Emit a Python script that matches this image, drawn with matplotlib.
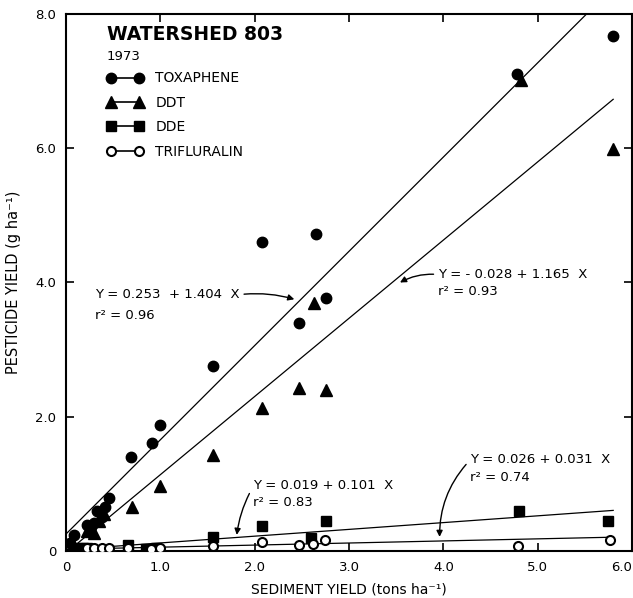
import matplotlib
matplotlib.use("Agg")
import matplotlib.pyplot as plt
from matplotlib.lines import Line2D
import numpy as np

plt.rcParams['font.family'] = ['DejaVu Sans']

# sediment yield (tons/ha) vs pesticide yield (g/ha), watershed 803, 1973
tox_x = [0.04, 0.08, 0.22, 0.26, 0.30, 0.33, 0.38, 0.41, 0.46, 0.69, 0.91, 1.00, 1.56, 2.08, 2.47, 2.65, 2.76, 4.78, 5.80]
tox_y = [0.12, 0.24, 0.38, 0.36, 0.42, 0.60, 0.50, 0.66, 0.79, 1.40, 1.61, 1.87, 2.76, 4.60, 3.40, 4.72, 3.77, 7.10, 7.67]

ddt_x = [0.08, 0.22, 0.30, 0.35, 0.40, 0.70, 1.00, 1.56, 2.08, 2.47, 2.63, 2.76, 4.82, 5.80]
ddt_y = [0.05, 0.30, 0.27, 0.45, 0.55, 0.66, 0.97, 1.43, 2.13, 2.43, 3.70, 2.40, 7.02, 5.99]

dde_x = [0.12, 0.18, 0.22, 0.66, 0.85, 0.95, 1.56, 2.08, 2.60, 2.76, 4.80, 5.75]
dde_y = [0.04, 0.05, 0.05, 0.09, 0.03, 0.05, 0.21, 0.37, 0.20, 0.45, 0.59, 0.44]

tri_x = [0.22, 0.30, 0.38, 0.46, 0.66, 0.90, 1.00, 1.56, 2.08, 2.47, 2.62, 2.75, 4.79, 5.77]
tri_y = [0.05, 0.05, 0.05, 0.05, 0.05, 0.03, 0.04, 0.07, 0.13, 0.09, 0.10, 0.16, 0.08, 0.17]

# regression lines (intercept, slope)
fits = [(0.253, 1.404), (-0.028, 1.165), (0.019, 0.101), (0.026, 0.031)]
fit_text = ["Y = 0.253  + 1.404  X", "Y = - 0.028 + 1.165  X",
            "Y = 0.019 + 0.101  X", "Y = 0.026 + 0.031  X"]
fit_r2 = ["r² = 0.96", "r² = 0.93", "r² = 0.83", "r² = 0.74"]

names = ["TOXAPHENE", "DDT", "DDE", "TRIFLURALIN"]

xticks = [0, 1, 2, 3, 4, 5, 6]
xlabels = ["0", "1.0", "2.0", "3.0", "4.0", "5.0", "6.0"]
yticks = [0, 2, 4, 6, 8]
ylabels = ["0", "2.0", "4.0", "6.0", "8.0"]

fig = plt.figure(figsize=(6.33, 5.98), dpi=100)
ax = fig.add_axes([0.1043, 0.0786, 0.8942, 0.898])

xx = np.linspace(0, 5.8, 50)
for b0, b1 in fits:
    ax.plot(xx, b0 + b1 * xx, color="black", lw=0.9, zorder=2)

ax.plot(tox_x, tox_y, 'o', color='black', ms=7.5, zorder=3)
ax.plot(ddt_x, ddt_y, '^', color='black', ms=8, zorder=3)
ax.plot(dde_x, dde_y, 's', color='black', ms=6.5, zorder=3)
ax.plot(tri_x, tri_y, 'o', mfc='white', mec='black', mew=1.5, ms=6.5, zorder=4)

ax.set_xlim(0, 6)
ax.set_ylim(0, 8)
ax.set_xticks(xticks)
ax.set_xticklabels(xlabels, fontsize=9.5)
ax.set_yticks(yticks)
ax.set_yticklabels(ylabels, fontsize=9.5)
ax.get_xticklabels()[-1].set_ha('right')
ax.tick_params(direction='in', length=6, width=1.2, top=True, right=True, pad=7)
for s in ax.spines.values():
    s.set_linewidth(1.5)

ax.set_xlabel("SEDIMENT YIELD (tons ha⁻¹)", fontsize=10, labelpad=6)
ax.set_ylabel("PESTICIDE YIELD (g ha⁻¹)", fontsize=10.5, labelpad=10)

# title block and legend
ax.text(0.072, 0.961, "WATERSHED 803", transform=ax.transAxes, fontsize=13.5,
        fontweight='bold', va='center', ha='left')
ax.text(0.072, 0.92, "1973", transform=ax.transAxes, fontsize=9.5, va='center', ha='left')

handles = [
    Line2D([], [], color='black', lw=1.2, marker='o', ms=7.5),
    Line2D([], [], color='black', lw=1.2, marker='^', ms=8),
    Line2D([], [], color='black', lw=1.2, marker='s', ms=6.5),
    Line2D([], [], color='black', lw=1.2, marker='o', mfc='white', mew=1.5, ms=6.5),
]
ax.legend(handles, names, loc='upper left', bbox_to_anchor=(0.072, 0.893),
          frameon=False, numpoints=2, handlelength=2.6, handletextpad=0.9,
          labelspacing=0.75, borderpad=0, borderaxespad=0, fontsize=10)

# equation labels with arrows
arrow = dict(arrowstyle='-|>', color='black', lw=1.0, mutation_scale=9, shrinkA=1, shrinkB=0)
ax.annotate(fit_text[0], xy=(2.42, 3.75), xytext=(0.31, 3.82), fontsize=9.5,
            va='center', ha='left',
            arrowprops=dict(arrow, relpos=(1, 0.5), connectionstyle='arc3,rad=-0.1'))
ax.text(0.31, 3.51, fit_r2[0], fontsize=9.5, va='center', ha='left')

ax.annotate(fit_text[1], xy=(3.54, 4.0), xytext=(3.94, 4.12), fontsize=9.5,
            va='center', ha='left',
            arrowprops=dict(arrow, relpos=(0, 0.5), connectionstyle='arc3,rad=0.15'))
ax.text(3.94, 3.86, fit_r2[1], fontsize=9.5, va='center', ha='left')

ax.annotate(fit_text[2], xy=(1.81, 0.24), xytext=(1.98, 0.97), fontsize=9.5,
            va='center', ha='left',
            arrowprops=dict(arrow, relpos=(0, 0.4), connectionstyle='arc3,rad=0.1'))
ax.text(1.98, 0.72, fit_r2[2], fontsize=9.5, va='center', ha='left')

ax.annotate(fit_text[3], xy=(3.96, 0.21), xytext=(4.28, 1.37), fontsize=9.5,
            va='center', ha='left',
            arrowprops=dict(arrow, relpos=(0, 0.4), connectionstyle='arc3,rad=0.2'))
ax.text(4.28, 1.10, fit_r2[3], fontsize=9.5, va='center', ha='left')

fig.savefig("out.png", dpi=100)
